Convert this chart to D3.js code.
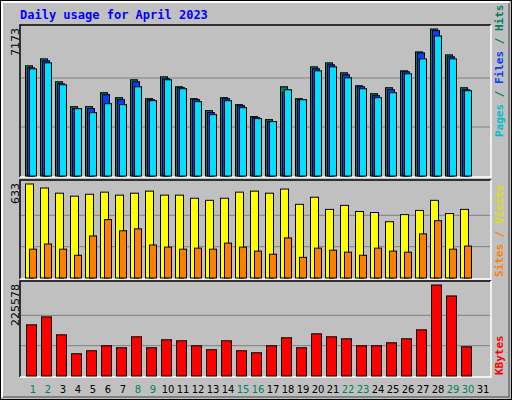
<!DOCTYPE html>
<html><head><meta charset="utf-8">
<script src="https://cdn.jsdelivr.net/npm/d3@7"></script>
<style>body{margin:0;background:#fff}</style>
</head><body>
<script>
// values
var days = d3.range(1, 31);
var weekend = [1, 2, 8, 9, 15, 16, 22, 23, 29, 30];
var hits = [5376,5716,4598,3384,3384,4064,3821,4695,3772,4841,4355,3772,3190,3821,3481,2898,2752,4355,3772,5327,5521,5035,4404,4015,4307,5132,6055,7173,5910,4307];
var files = [5278,5618,4501,3287,3287,3967,3724,4598,3724,4744,4307,3724,3092,3772,3432,2849,2655,4064,3724,5229,5424,4938,4355,3918,4209,5084,6007,7091,5812,4209];
var pages = [5229,5521,4452,3287,3092,3529,3481,4355,3675,4695,4258,3627,2995,3675,3335,2801,2655,4209,3724,5132,5327,4792,4258,3821,4064,4987,5715,6832,5715,4161];
var visits = [633,606,571,551,564,578,558,571,585,558,558,537,523,537,578,585,571,599,496,544,462,489,448,441,379,427,455,523,434,462];
var sites = [194,229,194,153,283,393,318,331,222,208,194,201,194,235,208,181,160,270,139,201,187,174,153,201,181,174,297,386,194,215];
var kbytes = [126788,146547,102089,55161,62571,74920,69981,97150,69981,89740,87270,74920,65041,87270,62571,57631,74920,94680,69981,104559,97150,92210,74920,74920,82330,92210,114439,225578,198414,72451];

var svg = d3.select("body").append("svg").attr("width", 512).attr("height", 400);
svg.append("rect").attr("x", 0.5).attr("y", 0.5).attr("width", 511).attr("height", 399)
	.attr("fill", "#c0c0c0").attr("stroke", "#000");
// bevel
svg.append("path").attr("d", "M2,397V2H509").attr("fill", "none").attr("stroke", "#fff").attr("stroke-width", 2);
svg.append("path").attr("d", "M3,397H509V3").attr("fill", "none").attr("stroke", "#808080").attr("stroke-width", 2);

svg.append("text").attr("x", 20).attr("y", 19).text("Daily usage for April 2023")
	.attr("font-family", "DejaVu Sans Mono").attr("font-weight", "bold").attr("font-size", 12).attr("fill", "#0000ff");

var x = d3.scaleLinear().domain([1, 31]).range([25, 475]);

function panel(y0, y1, max, label, right) {
	svg.append("path").attr("d", "M20," + y1 + "V" + y0 + "H491").attr("fill", "none").attr("stroke", "#000").attr("stroke-width", 1.5);
	svg.append("path").attr("d", "M20," + y1 + "H491V" + y0).attr("fill", "none").attr("stroke", "#fff").attr("stroke-width", 1.5);
	var y = d3.scaleLinear().domain([0, max]).range([y1 - 1, y0 + 4]);
	[max / 3, max * 2 / 3].forEach(function (g) {
		svg.append("line").attr("x1", 21).attr("x2", 490).attr("y1", y(g)).attr("y2", y(g)).attr("stroke", "#808080");
	});
	svg.append("text").attr("transform", "translate(19," + (y0 + 3) + ") rotate(-90)")
		.attr("text-anchor", "end").attr("font-family", "DejaVu Sans").attr("font-size", 11).text(label);
	var t = svg.append("text").attr("transform", "translate(503," + right.y + ") rotate(-90)")
		.attr("font-family", "DejaVu Sans Mono").attr("font-weight", "bold").attr("font-size", 11);
	right.parts.forEach(function (p) { t.append("tspan").attr("fill", p[1]).text(p[0]); });
	return y;
}

function bars(y, vals, dx, w, col) {
	svg.append("g").selectAll("rect").data(vals).enter().append("rect")
		.attr("x", function (d, i) { return x(days[i]) + dx; })
		.attr("y", function (d) { return y(d); })
		.attr("width", w)
		.attr("height", function (d) { return y(0) - y(d); })
		.attr("fill", col).attr("stroke", "#000").attr("stroke-width", 1);
}

var y1 = panel(25, 177, 7173, "7173", {y: 137, parts: [["Pages", "#00c0d0"], [" / ", "#008060"], ["Files", "#0040ff"], [" / ", "#008060"], ["Hits", "#008060"]]});
bars(y1, hits, 0.5, 7, "#008060");
bars(y1, files, 2.5, 7, "#0040ff");
bars(y1, pages, 4.5, 7, "#00e0ff");

var y2 = panel(180, 279, 633, "633", {y: 277, parts: [["Sites", "#ff8000"], [" / ", "#ff8000"], ["Visits", "#e0e000"]]});
bars(y2, visits, 0.5, 8, "#ffff00");
bars(y2, sites, 4.5, 7, "#ff8000");

var y3 = panel(281, 377, 225578, "225578", {y: 375, parts: [["KBytes", "#ff0000"]]});
bars(y3, kbytes, 1.5, 10, "#ff0000");

svg.append("g").selectAll("text").data(d3.range(1, 32)).enter().append("text")
	.attr("x", function (d) { return x(d) + 8; }).attr("y", 393)
	.attr("text-anchor", "middle").attr("font-family", "DejaVu Sans").attr("font-size", 10)
	.attr("fill", function (d) { return weekend.indexOf(d) >= 0 ? "#008060" : "#000"; })
	.text(function (d) { return d; });
</script>
</body></html>
